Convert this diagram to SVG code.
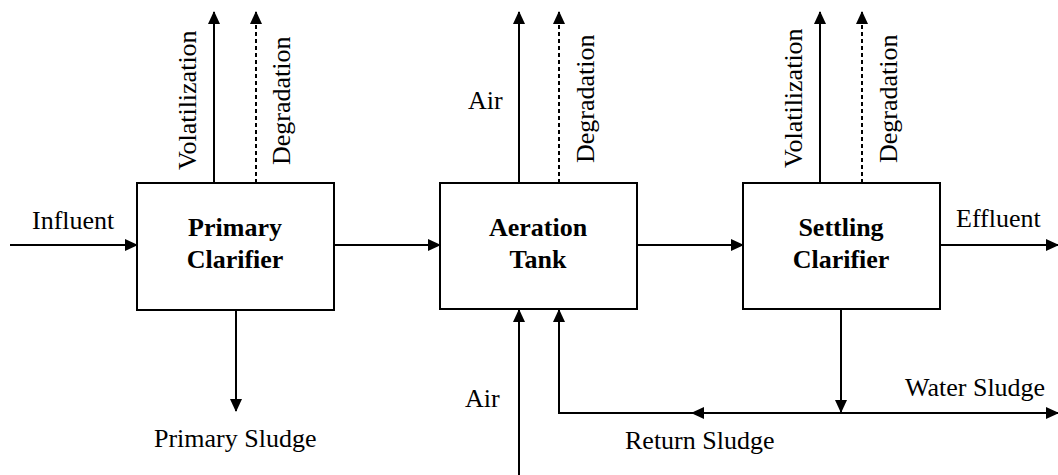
<svg xmlns="http://www.w3.org/2000/svg" width="1058" height="475" viewBox="0 0 1058 475">
<style>
.box{fill:#fff;stroke:#000;stroke-width:2}
.ln{fill:none;stroke:#000;stroke-width:2}
.dash{stroke-dasharray:4 3}
.t{font-family:"Liberation Serif","Times New Roman",serif;font-size:26px;fill:#000}
.b{font-family:"Liberation Serif","Times New Roman",serif;font-size:26px;font-weight:bold;fill:#000;text-anchor:middle}
</style>
<defs>
<marker id="ah" viewBox="0 0 13 12" refX="12" refY="6" markerWidth="13" markerHeight="12" orient="auto" markerUnits="userSpaceOnUse">
<path d="M0,0 L13,6 L0,12 z" fill="#000"/>
</marker>
</defs>
<rect width="1058" height="475" fill="#fff"/>
<g id="connectors">
<line class="ln" x1="10" y1="245" x2="137" y2="245" marker-end="url(#ah)"/>
<line class="ln" x1="334" y1="245" x2="440" y2="245" marker-end="url(#ah)"/>
<line class="ln" x1="637" y1="245" x2="743" y2="245" marker-end="url(#ah)"/>
<line class="ln" x1="940" y1="245" x2="1058" y2="245" marker-end="url(#ah)"/>
<line class="ln" x1="214" y1="183" x2="214" y2="12" marker-end="url(#ah)"/>
<line class="ln dash" x1="256" y1="183" x2="256" y2="12" marker-end="url(#ah)"/>
<line class="ln" x1="519" y1="183" x2="519" y2="12" marker-end="url(#ah)"/>
<line class="ln dash" x1="559" y1="183" x2="559" y2="12" marker-end="url(#ah)"/>
<line class="ln" x1="820" y1="183" x2="820" y2="12" marker-end="url(#ah)"/>
<line class="ln dash" x1="862" y1="183" x2="862" y2="12" marker-end="url(#ah)"/>
<line class="ln" x1="236" y1="310" x2="236" y2="411" marker-end="url(#ah)"/>
<line class="ln" x1="519" y1="475" x2="519" y2="310" marker-end="url(#ah)"/>
<polyline class="ln" points="1058,413 559,413 559,310"/>
<line class="ln" x1="559" y1="413" x2="559" y2="310" marker-end="url(#ah)"/>
<line class="ln" x1="841" y1="309" x2="841" y2="412" marker-end="url(#ah)"/>
<line class="ln" x1="841" y1="413" x2="1058" y2="413" marker-end="url(#ah)"/>
<line class="ln" x1="720" y1="413" x2="692" y2="413" marker-end="url(#ah)"/>
<text class="t" x="32" y="229">Influent</text>
<text class="t" transform="translate(196,170) rotate(-90)">Volatilization</text>
<text class="t" transform="translate(290,165) rotate(-90)">Degradation</text>
<text class="t" x="468" y="109">Air</text>
<text class="t" transform="translate(594,163) rotate(-90)">Degradation</text>
<text class="t" transform="translate(802,168) rotate(-90)">Volatilization</text>
<text class="t" transform="translate(897,163) rotate(-90)">Degradation</text>
<text class="t" x="956" y="227">Effluent</text>
<text class="t" x="154" y="447">Primary Sludge</text>
<text class="t" x="465" y="407">Air</text>
<text class="t" x="625" y="449">Return Sludge</text>
<text class="t" x="905" y="396">Water Sludge</text>
</g>
<g id="primary-clarifier">
<rect class="box" x="137" y="183" width="197" height="127"/>
<text class="b" x="235" y="236">Primary</text>
<text class="b" x="235" y="268">Clarifier</text>
</g>
<g id="aeration-tank">
<rect class="box" x="440" y="183" width="197" height="126"/>
<text class="b" x="538" y="236">Aeration</text>
<text class="b" x="538" y="268">Tank</text>
</g>
<g id="settling-clarifier">
<rect class="box" x="743" y="183" width="197" height="126"/>
<text class="b" x="841" y="236">Settling</text>
<text class="b" x="841" y="268">Clarifier</text>
</g>
</svg>
